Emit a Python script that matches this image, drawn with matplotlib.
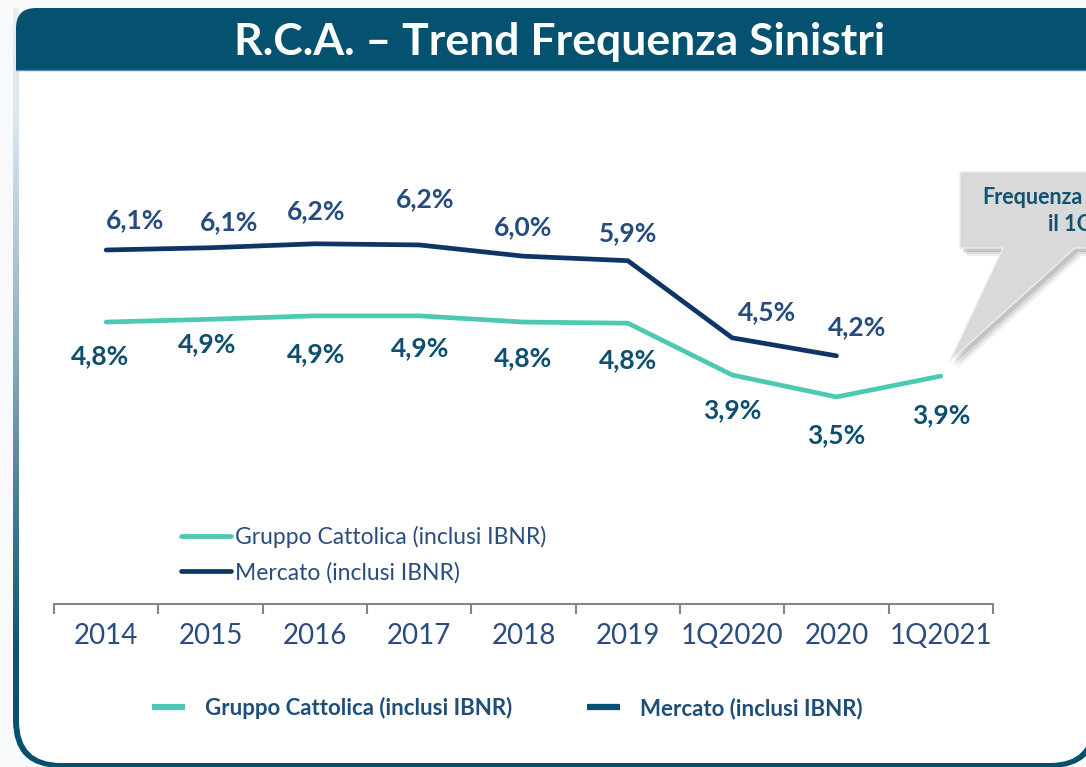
import matplotlib
matplotlib.use("Agg")
import matplotlib.pyplot as plt
import numpy as np
from matplotlib.patches import FancyBboxPatch, Polygon, Rectangle
from matplotlib.lines import Line2D
from matplotlib.colors import LinearSegmentedColormap

# ---------------- data ----------------
categories = ["2014", "2015", "2016", "2017", "2018", "2019", "1Q2020", "2020", "1Q2021"]
mercato = [6.10, 6.14, 6.21, 6.19, 5.99, 5.91, 4.54, 4.22, np.nan]
gruppo = [4.82, 4.87, 4.93, 4.93, 4.82, 4.80, 3.88, 3.49, 3.86]
mercato_labels = ["6,1%", "6,1%", "6,2%", "6,2%", "6,0%", "5,9%", "4,5%", "4,2%", ""]
gruppo_labels = ["4,8%", "4,9%", "4,9%", "4,9%", "4,8%", "4,8%", "3,9%", "3,5%", "3,9%"]
series_names = ["Gruppo Cattolica (inclusi IBNR)", "Mercato (inclusi IBNR)"]
title = "R.C.A. – Trend Frequenza Sinistri"
callout_lines = ["Frequenza", "il 1Q2021"]

# label offsets (pixels) – manual slide placement
merc_off = [(29, 30), (19, 26), (1, 33), (6, 46), (0, 29), (0, 28), (35, 26), (21, 29), (0, 0)]
grp_off = [(-6, -34), (-3, -25), (1, -38), (1, -32), (0, -36), (0, -37), (0, -35), (0, -38), (0, -39)]

# ---------------- styles ----------------
C_TEAL = "#4DC8B2"
C_NAVY = "#0E3566"
C_DARKTEAL = "#04526F"
C_LAB_TOP = "#264B80"
C_LAB_BOT = "#0C4F6E"
C_TICK = "#2B4C7E"
FONT = "Lato"

W, H = 1086, 767
fig = plt.figure(figsize=(W / 100, H / 100), dpi=100)
fig.patch.set_facecolor("#F7F9FB")

bg = fig.add_axes([0, 0, 1, 1])
bg.set_xlim(0, W)
bg.set_ylim(H, 0)
bg.axis("off")

# frame with vertical gradient border
outer = FancyBboxPatch((13, -100), W + 12 - 13, 768 + 100, boxstyle="round,pad=0,rounding_size=48",
                       facecolor="none", edgecolor="none")
bg.add_patch(outer)
cmap = LinearSegmentedColormap.from_list(
    "frame", [(0.0, "#E8EFF4"), (0.15, "#DDE7EE"), (0.45, "#8FAFC2"),
              (0.65, "#4A7D97"), (0.85, "#0D5575"), (1.0, "#04506D")])
grad = np.linspace(0, 1, 256).reshape(-1, 1)
im = bg.imshow(grad, extent=[0, W, H, 0], cmap=cmap, aspect="auto", zorder=1)
im.set_clip_path(outer)
inner = FancyBboxPatch((19, -100), W + 6 - 19, 763 + 100, boxstyle="round,pad=0,rounding_size=42",
                       facecolor="white", edgecolor="none", zorder=2)
bg.add_patch(inner)
bg.add_patch(Rectangle((0, -10), W, 18, facecolor="#F7F9FB", edgecolor="none", zorder=3))

# title bar
bar = FancyBboxPatch((16, 8), W + 20 - 16, 62, boxstyle="round,pad=0,rounding_size=20",
                     facecolor=C_DARKTEAL, edgecolor="none", zorder=4)
bg.add_patch(bar)
bg.add_patch(Rectangle((16, 40), W, 30, facecolor=C_DARKTEAL, edgecolor="none", zorder=4))
bg.plot([16, W], [70, 70], color="#5A8DA6", lw=1, zorder=5)
bg.text(560, 42, title, color="white", fontsize=32, fontweight="bold", family=FONT,
        ha="center", va="center", zorder=6)

# callout
call = [(960, 172), (W + 20, 172), (W + 20, 248), (1075, 248), (950, 361), (1003, 248), (960, 248)]
for (dx, dy, a) in [(7, 8, 0.12), (5, 6, 0.18), (3, 4, 0.25)]:
    bg.add_patch(Polygon([(x + dx, y + dy) for x, y in call], closed=True,
                         facecolor="#7F7F7F", edgecolor="none", alpha=a, zorder=6))
bg.add_patch(Polygon(call, closed=True, facecolor="#D9D9D9", edgecolor="#EDEDED", lw=1, zorder=7))
bg.text(982, 197, callout_lines[0], color="#0E5470", fontsize=15.5, fontweight="bold",
        family=FONT, ha="left", va="center", zorder=8)
bg.text(1048, 225, callout_lines[1], color="#0E5470", fontsize=15.5, fontweight="bold",
        family=FONT, ha="left", va="center", zorder=8)

# ---------------- chart ----------------
ax = fig.add_axes([54 / W, 1 - 604 / H, (993 - 54) / W, (604 - 150) / H])
ax.patch.set_alpha(0)
x = np.arange(len(categories))
ax.set_xlim(-0.5, len(categories) - 0.5)
ax.set_ylim(-0.188, 7.876)

l_g, = ax.plot(x, gruppo, color=C_TEAL, lw=3.4, solid_capstyle="round", solid_joinstyle="round")
l_m, = ax.plot(x, mercato, color=C_NAVY, lw=3.4, solid_capstyle="round", solid_joinstyle="round")

for i, (v, lab) in enumerate(zip(mercato, mercato_labels)):
    if lab:
        ax.annotate(lab, (x[i], v), xytext=merc_off[i], textcoords="offset pixels",
                    ha="center", va="center", fontsize=19, fontweight="bold",
                    family=FONT, color=C_LAB_TOP)
for i, (v, lab) in enumerate(zip(gruppo, gruppo_labels)):
    ax.annotate(lab, (x[i], v), xytext=grp_off[i], textcoords="offset pixels",
                ha="center", va="center", fontsize=19, fontweight="bold",
                family=FONT, color=C_LAB_BOT)

for s in ["top", "left", "right"]:
    ax.spines[s].set_visible(False)
ax.spines["bottom"].set_color("#868686")
ax.spines["bottom"].set_linewidth(1.5)
ax.set_yticks([])
ax.set_xticks(x)
ax.set_xticklabels(categories, family=FONT)
ax.tick_params(axis="x", which="major", length=0, pad=14, labelsize=20, labelcolor=C_TICK)
ax.set_xticks(np.arange(-0.5, len(categories), 1), minor=True)
ax.tick_params(axis="x", which="minor", length=7, width=1.5, color="#868686", direction="out")

ax.legend([l_g, l_m], series_names, loc="upper left",
          bbox_to_anchor=(181 / W, 1 - 526 / H), bbox_transform=fig.transFigure,
          frameon=False, prop=dict(family=FONT, size=16.5), labelcolor=C_TICK,
          handlelength=2.2, handletextpad=0.15, labelspacing=0.6,
          borderpad=0, borderaxespad=0)

h1 = Line2D([], [], color=C_TEAL, lw=4.5, solid_capstyle="butt")
h2 = Line2D([], [], color=C_DARKTEAL, lw=4.5, solid_capstyle="butt")
fig.legend([h1, h2], series_names, ncol=2, loc="center left",
           bbox_to_anchor=(152 / W, 1 - 708 / H), frameon=False,
           prop=dict(family=FONT, size=16, weight="bold"), labelcolor="#1F4E79",
           handlelength=1.5, handletextpad=0.9, columnspacing=3.35,
           borderpad=0, borderaxespad=0)

fig.savefig("out.png", dpi=100, facecolor=fig.get_facecolor())
